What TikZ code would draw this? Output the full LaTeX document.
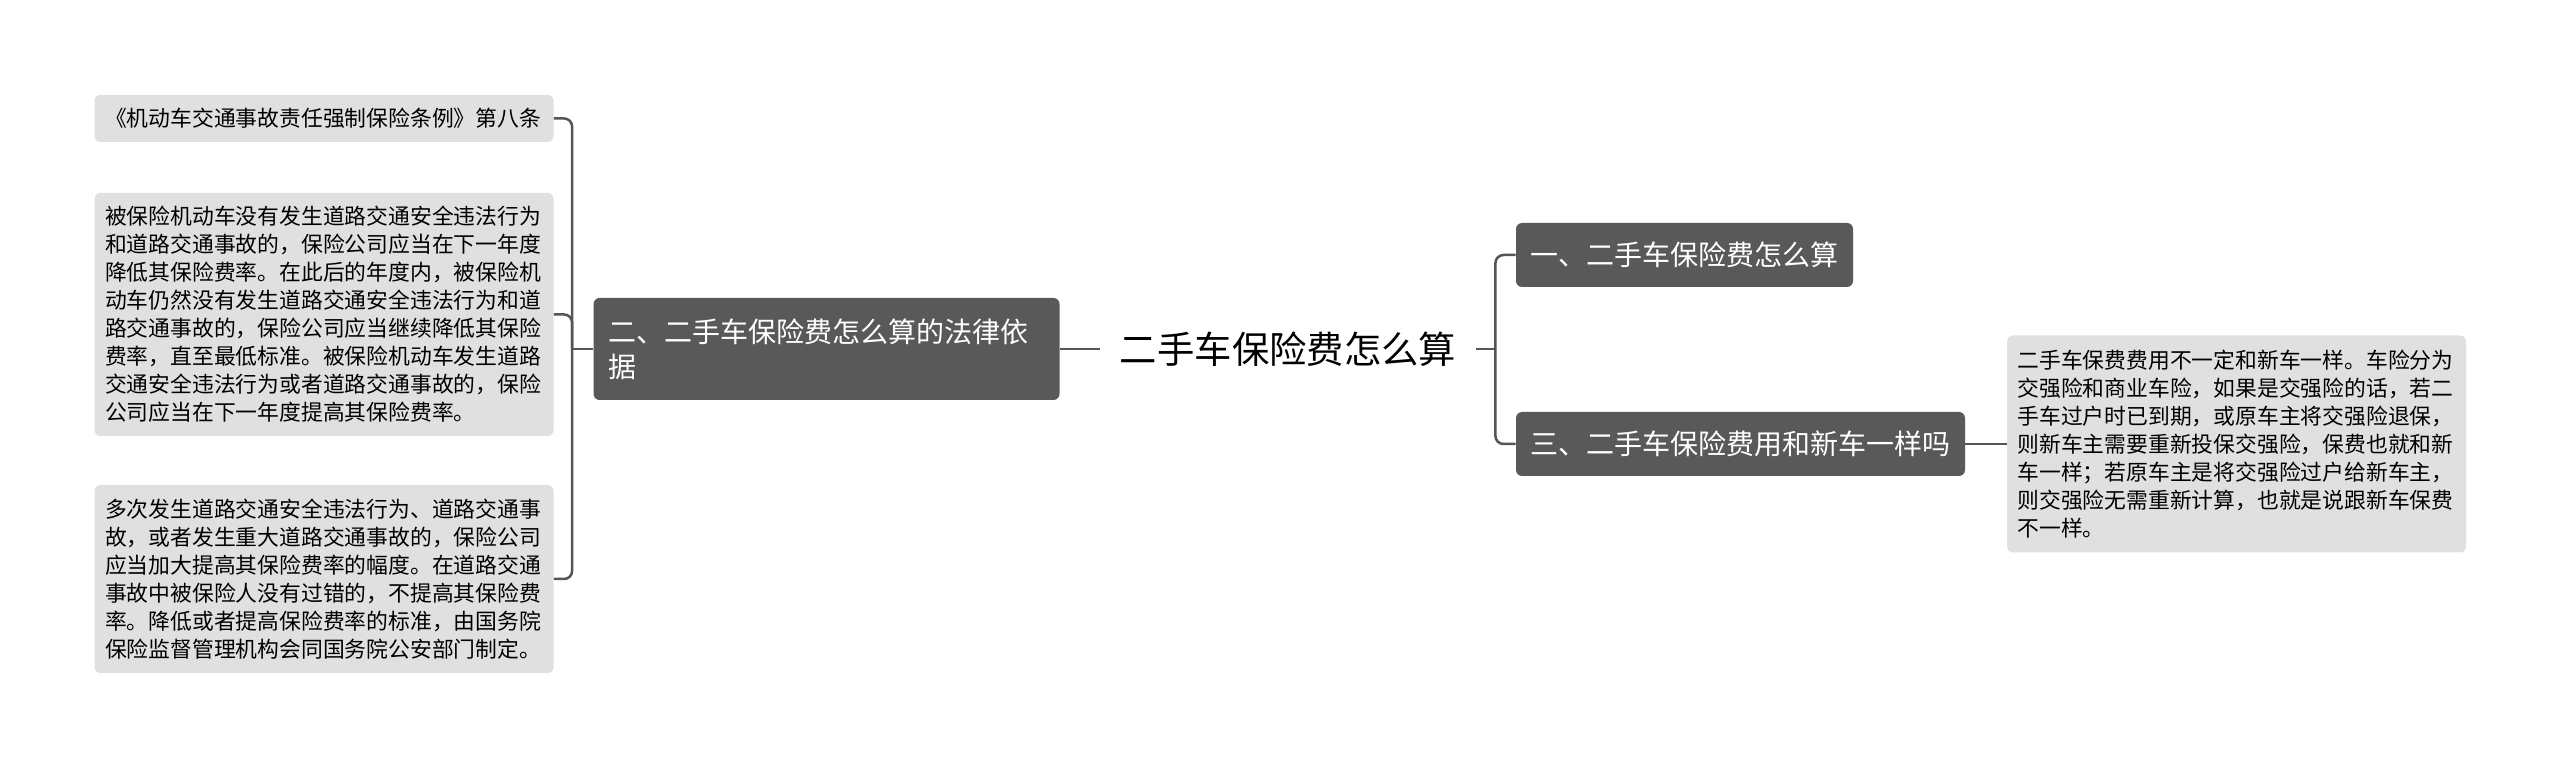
\documentclass[tikz,border=0pt]{standalone}
\usepackage{fontspec}
\setmainfont{Noto Sans CJK SC}
\definecolor{MMdark}{HTML}{595959}
\definecolor{MMleaf}{HTML}{E0E0E0}
\definecolor{MMline}{HTML}{555555}
\usetikzlibrary{calc}

\begin{document}
\begin{tikzpicture}[x=0.5pt,y=-0.5pt,
  leafbox/.style={fill=MMleaf,rounded corners=3pt,align=left,text width=219pt,
    inner xsep=5.25pt,inner ysep=0pt,font=\fontsize{10.9}{14}\selectfont},
  topicbox/.style={fill=MMdark,text=white,rounded corners=3pt,align=left,
    inner xsep=7.25pt,inner ysep=0pt,minimum height=32pt,font=\fontsize{14}{17.5}\selectfont},
  branch/.style={draw=MMline,line width=1.25pt,rounded corners=4pt}]
  \useasboundingbox (0,0) rectangle (2560,769);

  \node (title) at (1288,349) [inner xsep=10pt,font=\fontsize{18.67}{22}\selectfont] {二手车保险费怎么算};

  \node[topicbox,text width=218.5pt,minimum height=51pt] (basis) at (826.5,349)
    {二、二手车保险费怎么算的法律依\\据};
  \node[topicbox] (calc) at (1684.5,255) {一、二手车保险费怎么算};
  \node[topicbox] (same) at (1740.5,444) {三、二手车保险费用和新车一样吗};

  \node[leafbox,minimum height=23.5pt] (clause) at (324,118.5)
    {《机动车交通事故责任强制保险条例》第八条};
  \node[leafbox,minimum height=121.5pt] (cut) at (324,314.5)
    {被保险机动车没有发生道路交通安全违法行为\\
     和道路交通事故的，保险公司应当在下一年度\\
     降低其保险费率。在此后的年度内，被保险机\\
     动车仍然没有发生道路交通安全违法行为和道\\
     路交通事故的，保险公司应当继续降低其保险\\
     费率，直至最低标准。被保险机动车发生道路\\
     交通安全违法行为或者道路交通事故的，保险\\
     公司应当在下一年度提高其保险费率。};
  \node[leafbox,minimum height=94pt] (raise) at (324,579)
    {多次发生道路交通安全违法行为、道路交通事\\
     故，或者发生重大道路交通事故的，保险公司\\
     应当加大提高其保险费率的幅度。在道路交通\\
     事故中被保险人没有过错的，不提高其保险费\\
     率。降低或者提高保险费率的标准，由国务院\\
     保险监督管理机构会同国务院公安部门制定。};
  \node[leafbox,minimum height=108.5pt] (answer) at (2236.5,444)
    {二手车保费费用不一定和新车一样。车险分为\\
     交强险和商业车险，如果是交强险的话，若二\\
     手车过户时已到期，或原车主将交强险退保，\\
     则新车主需要重新投保交强险，保费也就和新\\
     车一样；若原车主是将交强险过户给新车主，\\
     则交强险无需重新计算，也就是说跟新车保费\\
     不一样。};

  \coordinate (jl) at ($(basis.west)+(-21,0)$);
  \coordinate (jr) at ($(title.east)+(19,0)$);

  \draw[branch] (title.west) -- (basis.east);
  \draw[branch] (basis.west) -- (jl);
  \foreach \n in {clause,cut,raise}
    \draw[branch] (jl) |- (\n.east);

  \draw[branch] (title.east) -- (jr);
  \foreach \n in {calc,same}
    \draw[branch] (jr) |- (\n.west);
  \draw[branch] (same.east) -- (answer.west);
\end{tikzpicture}
\end{document}
